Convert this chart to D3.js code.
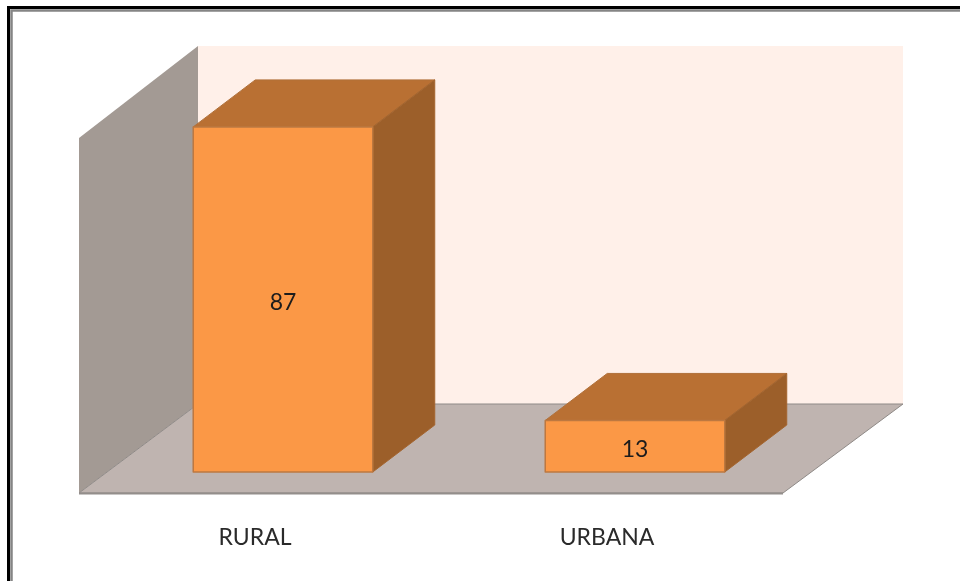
<!DOCTYPE html>
<html><head><meta charset="utf-8">
<script src="https://cdn.jsdelivr.net/npm/d3@7"></script>
<style>html,body{margin:0;padding:0;background:#fff}svg{display:block}</style>
</head><body><script>
const categories = ["RURAL", "URBANA"];
const values = [87, 13];

const svg = d3.select("body").append("svg").attr("width", 960).attr("height", 581);
const font = "Lato, 'Noto Sans', sans-serif";

// Frame (open on the right and bottom)
const frame = (x, y, w, c) => svg.append("path").attr("d", `M${x},581V${y}H960`).attr("fill", "none").attr("stroke", c).attr("stroke-width", w);
frame(8.5, 7.5, 3, "#000");
frame(11.5, 10.5, 2.5, "#858585");

const plot = svg.append("g").style("filter", "blur(0.45px)");

// Scales
const y = d3.scaleLinear().domain([0, 90]).range([472, 115]);
const xBar = d3.scaleBand().domain(categories).range([107, 811]).paddingInner(0.49).paddingOuter(0.245);
const xAxis = d3.scaleBand().domain(categories).range([79, 783]);

// 3D projection depths
const wall = {dx: 119, dy: -89, lift: 21};   // scene depth
const bar = {dx: 62, dy: -47};               // bar depth
const x0 = xAxis.range()[0], x1 = xAxis.range()[1];
const yFloor = y(0) + wall.lift;
const yFront = 138, yBack = 46;
const poly = (pts, fill, stroke, sw) => plot.append("polygon")
  .attr("points", pts.map(p => p.join(",")).join(" "))
  .attr("fill", fill).attr("stroke", stroke || "none").attr("stroke-width", sw || 0).attr("stroke-linejoin", "round");

// Back wall, side wall, floor
poly([[x0+wall.dx, yBack], [x1+wall.dx+1, yBack], [x1+wall.dx+1, yFloor+wall.dy], [x0+wall.dx, yFloor+wall.dy]], "#fff0e9");
poly([[x0, yFront], [x0+wall.dx, yBack], [x0+wall.dx, yFloor+wall.dy], [x0, yFloor]], "#a39a94");
poly([[x0, yFloor], [x1, yFloor], [x1+wall.dx+1, yFloor+wall.dy], [x0+wall.dx, yFloor+wall.dy]], "#bfb4b0");
plot.append("path").attr("d", `M${x0},${yFloor}L${x0+wall.dx},${yFloor+wall.dy}H${x1+wall.dx+1}L${x1},${yFloor}Z`)
  .attr("fill", "none").attr("stroke", "#8f8a87").attr("stroke-width", 1);
plot.append("line").attr("x1", x0).attr("x2", x1).attr("y1", yFloor+0.5).attr("y2", yFloor+0.5).attr("stroke", "#938e8b").attr("stroke-width", 2);

// Bars
categories.forEach((c, i) => {
  const l = xBar(c), r = l + xBar.bandwidth(), t = y(values[i]), b = y(0);
  poly([[l, t], [l+bar.dx, t+bar.dy], [r+bar.dx, t+bar.dy], [r, t]], "#b97033", "#b0703a", 1);
  poly([[r, t], [r+bar.dx, t+bar.dy], [r+bar.dx, b+bar.dy], [r, b]], "#9c5f2a", "#a4652f", 1);
  poly([[l, t], [r, t], [r, b], [l, b]], "#fb9846", "#bd7840", 1.5);
  plot.append("text").attr("x", (l+r)/2).attr("y", (t+b)/2 + 11)
    .attr("text-anchor", "middle").attr("font-family", font).attr("font-size", 23).attr("fill", "#1c1c1c").text(values[i]);
});

// Category axis
const axis = plot.append("g").attr("transform", "translate(0,510)").call(d3.axisBottom(xAxis).tickSize(0).tickPadding(0));
axis.select(".domain").remove();
axis.selectAll("text").attr("font-family", font).attr("font-size", 23).attr("fill", "#2a2a2a").attr("dy", "35");
</script></body></html>
